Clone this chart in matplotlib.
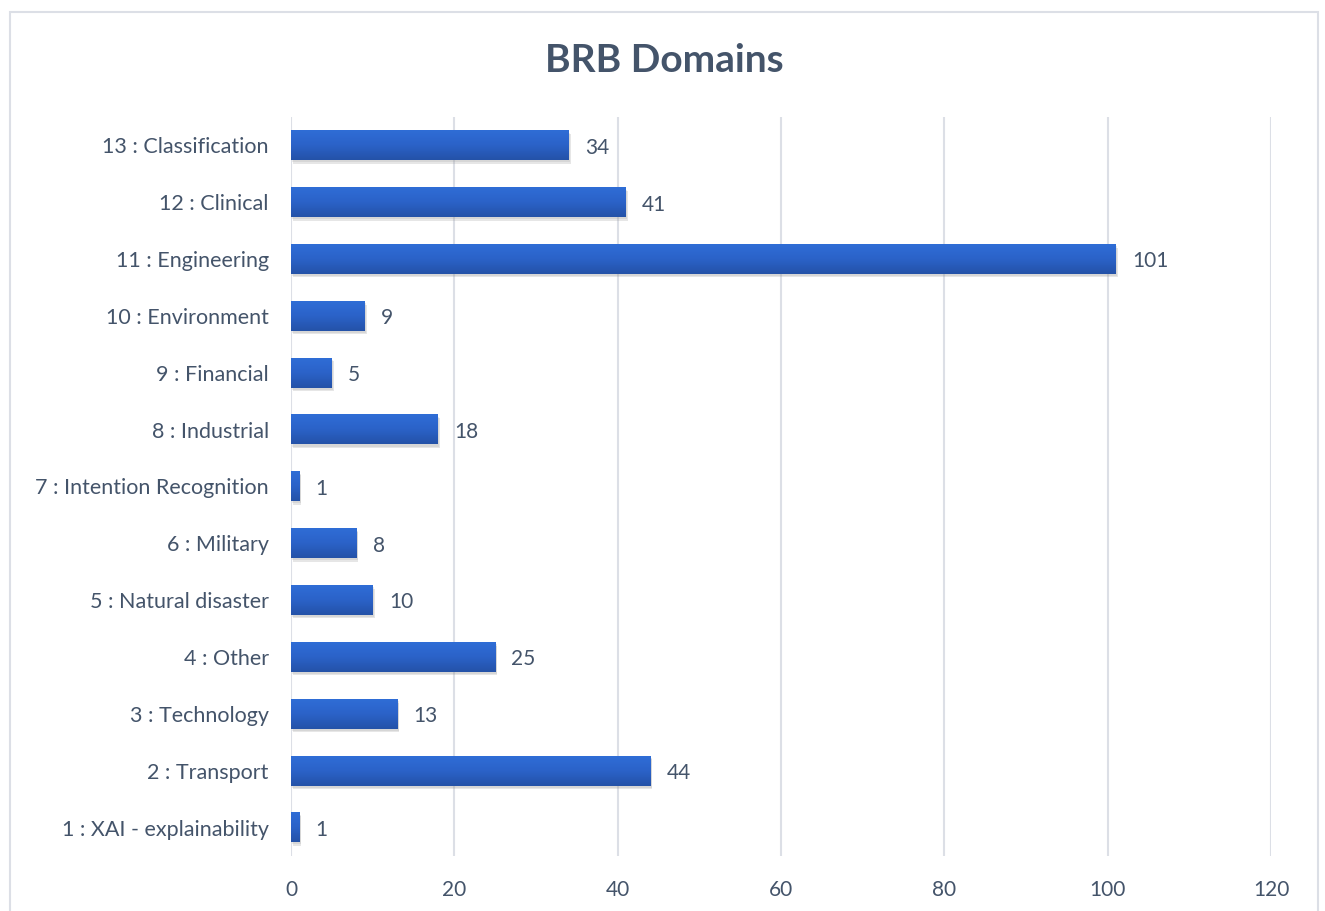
import numpy as np
import matplotlib.pyplot as plt
import matplotlib.patheffects as pe
from matplotlib.colors import LinearSegmentedColormap
from matplotlib.patches import Rectangle

# Data (bottom to top)
categories = ['1 : XAI - explainability', '2 : Transport', '3 : Technology', '4 : Other',
              '5 : Natural disaster', '6 : Military', '7 : Intention Recognition',
              '8 : Industrial', '9 : Financial', '10 : Environment', '11 : Engineering',
              '12 : Clinical', '13 : Classification']
counts = [1, 44, 13, 25, 10, 8, 1, 18, 5, 9, 101, 41, 34]
xticks = [0, 20, 40, 60, 80, 100, 120]

text_color = '#44546A'
grid_color = '#DCDFE6'
plt.rcParams['font.family'] = ['Lato', 'DejaVu Sans']

fig = plt.figure(figsize=(13.25, 9.11), dpi=100)
ax = fig.add_axes([291 / 1325, 1 - 856 / 911, 980 / 1325, 739 / 911])

# outer chart frame
fig.patches.append(Rectangle((10 / 1325, -0.05), 1308 / 1325, 1.05 - 12 / 911,
                             transform=fig.transFigure, fill=False,
                             edgecolor=grid_color, linewidth=1.5))

y = np.arange(len(categories))
h = 0.52
bars = ax.barh(y, counts, height=h, color='#2A5FC0', zorder=3)
for b in bars:
    b.set_path_effects([pe.SimplePatchShadow(offset=(1.5, -2.5), shadow_rgbFace='#909090', alpha=0.22),
                        pe.SimplePatchShadow(offset=(1, -1.5), shadow_rgbFace='#909090', alpha=0.18),
                        pe.Normal()])

# vertical gradient on each bar
cmap = LinearSegmentedColormap.from_list('bar', ['#2452A8', '#2B62C8', '#2F6DD6'])
grad = np.linspace(0, 1, 64).reshape(-1, 1)
for yi, v in zip(y, counts):
    ax.imshow(grad, cmap=cmap, aspect='auto', origin='lower', zorder=4,
              extent=(0, v, yi - h / 2, yi + h / 2), interpolation='bicubic')
    ax.text(v + 2, yi - 0.04, str(v), va='center', ha='left', fontsize=15, color=text_color)

ax.set_xlim(0, 120)
ax.set_ylim(-0.5, len(categories) - 0.5)
ax.set_xticks(xticks)
ax.set_yticks(y)
ax.set_yticklabels(categories)
ax.tick_params(axis='both', length=0, labelsize=15.5, labelcolor=text_color)
ax.tick_params(axis='x', labelsize=15, pad=17)
ax.tick_params(axis='y', pad=16)
ax.grid(axis='x', color=grid_color, linewidth=1.5, zorder=0)
ax.set_axisbelow(True)
for s in ax.spines.values():
    s.set_visible(False)

fig.text(664 / 1325, 1 - 60 / 911, 'BRB Domains', ha='center', va='center',
         fontsize=28, fontweight='bold', color=text_color)

fig.savefig('out.png', dpi=100)
